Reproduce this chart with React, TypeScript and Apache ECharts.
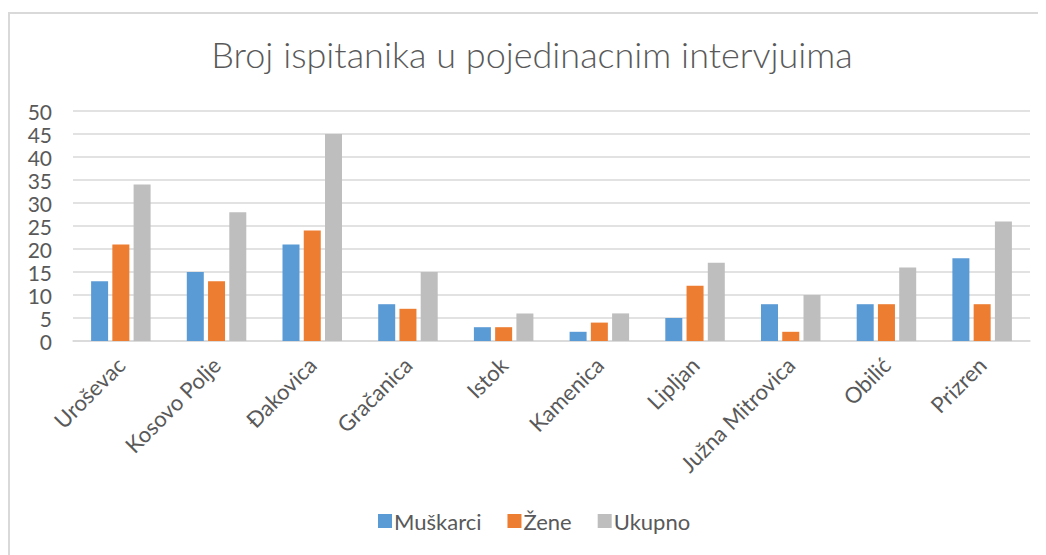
import React, { useEffect, useRef } from "react";
import * as echarts from "echarts";

const categories = [
  "Uroševac",
  "Kosovo Polje",
  "Đakovica",
  "Gračanica",
  "Istok",
  "Kamenica",
  "Lipljan",
  "Južna Mitrovica",
  "Obilić",
  "Prizren",
];
const muskarci = [13, 15, 21, 8, 3, 2, 5, 8, 8, 18];
const zene = [21, 13, 24, 7, 3, 4, 12, 2, 8, 8];
const ukupno = [34, 28, 45, 15, 6, 6, 17, 10, 16, 26];
const seriesNames = ["Muškarci", "Žene", "Ukupno"];
const colors = ["#5B9BD5", "#ED7D31", "#BEBEBE"];

const FONT = "Lato, 'Open Sans', sans-serif";

export default function App() {
  const ref = useRef<HTMLDivElement>(null);
  useEffect(() => {
    if (!ref.current) return;
    const chart = echarts.init(ref.current, undefined, { renderer: "svg" });
    const data = [muskarci, zene, ukupno];
    chart.setOption({
      animation: false,
      textStyle: { fontFamily: FONT },
      title: {
        text: "Broj ispitanika u pojedinacnim intervjuima",
        left: 519,
        top: 23,
        textAlign: "center",
        textStyle: { fontFamily: FONT, fontSize: 36, fontWeight: 300, color: "#595959" },
      },
      graphic: [
        {
          type: "rect",
          shape: { x: 1, y: 5, width: 1200, height: 700 },
          style: { fill: "none", stroke: "#d9d9d9", lineWidth: 2 },
          silent: true,
        },
      ],
      legend: {
        data: seriesNames,
        top: 497,
        left: 365,
        itemWidth: 14,
        itemHeight: 14,
        itemGap: 26,
        icon: "rect",
        textStyle: { fontFamily: FONT, fontSize: 22, color: "#595959", padding: [0, 0, 0, -3] },
      },
      grid: { left: 65, right: 16, top: 103, bottom: 214 },
      xAxis: {
        type: "category",
        data: categories,
        axisLine: { lineStyle: { color: "#d9d9d9", width: 1.5 } },
        axisTick: { show: false },
        axisLabel: { rotate: 45, fontSize: 22, color: "#595959", margin: 20, fontFamily: FONT },
      },
      yAxis: {
        type: "value",
        min: 0,
        max: 50,
        interval: 5,
        axisLine: { show: false },
        axisTick: { show: false },
        splitLine: { lineStyle: { color: "#d9d9d9", width: 1.5 } },
        axisLabel: { fontSize: 21, color: "#595959", margin: 21, fontFamily: FONT },
      },
      series: seriesNames.map((name, i) => ({
        name,
        type: "bar",
        data: data[i],
        barWidth: 17,
        barGap: "25%",
        itemStyle: { color: colors[i] },
      })),
    });
    return () => chart.dispose();
  }, []);
  return <div ref={ref} style={{ width: 1038, height: 547 }} />;
}
